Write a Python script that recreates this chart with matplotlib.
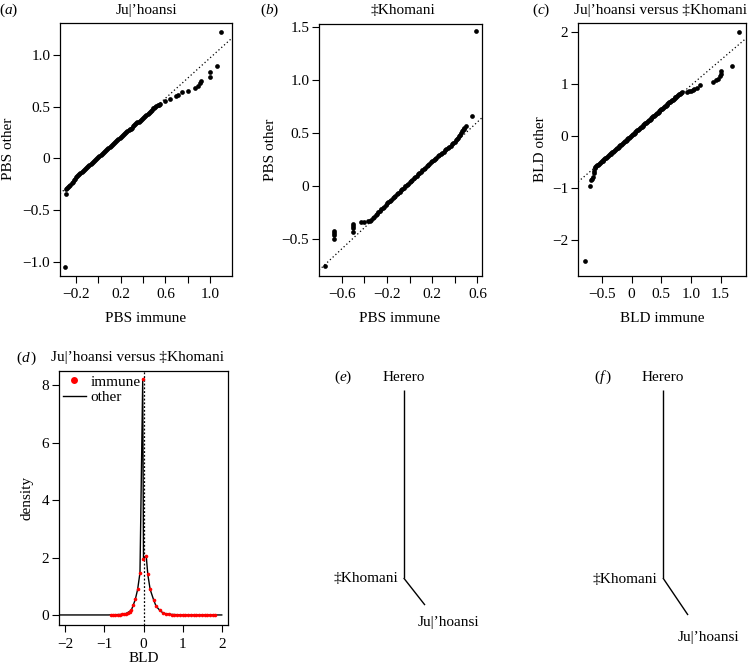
import matplotlib
matplotlib.use("Agg")
import matplotlib.pyplot as plt
from matplotlib.lines import Line2D

plt.rcParams['font.family'] = ['Liberation Serif', 'DejaVu Serif']
plt.rcParams['font.size'] = 11
plt.rcParams['mathtext.fontset'] = 'custom'
plt.rcParams['mathtext.rm'] = 'Liberation Serif'
plt.rcParams['mathtext.it'] = 'Liberation Serif:italic'

JU = "Ju|\u02bchoansi"
KH = "\u2021Khomani"

# ---------------- data ----------------
# (a) PBS QQ, Ju|'hoansi
a_x = [-0.295, -0.289,
       -0.285, -0.277, -0.27, -0.26, -0.25, -0.24, -0.23, -0.22, -0.21, -0.20, -0.19,
       -0.18, -0.17, -0.16, -0.15, -0.14, -0.13, -0.12, -0.11, -0.10, -0.09, -0.08, -0.07,
       -0.06, -0.05, -0.04, -0.03, -0.02, -0.01, 0.0, 0.01, 0.02, 0.03, 0.04, 0.05, 0.06,
       0.07, 0.08, 0.09, 0.10, 0.11, 0.12, 0.13, 0.14, 0.15, 0.16, 0.17, 0.18, 0.19,
       0.20, 0.21, 0.22, 0.23, 0.24, 0.25, 0.26, 0.27, 0.28, 0.29, 0.30, 0.31, 0.32, 0.33,
       0.34, 0.35, 0.36, 0.37, 0.38, 0.39, 0.40, 0.41, 0.42, 0.43, 0.44, 0.45, 0.46,
       0.47, 0.48, 0.49, 0.50, 0.51, 0.52, 0.53, 0.54, 0.55,
       0.595, 0.645, 0.693, 0.713, 0.752, 0.803, 0.862, 0.892, 0.907, 0.916,
       0.996, 0.996, 1.061, 1.10]
a_y = [-1.05, -0.348,
       -0.30, -0.285, -0.275, -0.265, -0.255, -0.24, -0.225, -0.21, -0.195, -0.182, -0.17,
       -0.16, -0.15, -0.14, -0.13, -0.12, -0.11, -0.10, -0.09, -0.08, -0.07, -0.06, -0.05,
       -0.04, -0.03, -0.02, -0.01, -0.002, 0.005, 0.015, 0.025, 0.035, 0.045, 0.054, 0.063,
       0.072, 0.082, 0.091, 0.10, 0.11, 0.12, 0.13, 0.14, 0.15, 0.16, 0.17, 0.18, 0.187,
       0.195, 0.205, 0.215, 0.225, 0.235, 0.245, 0.255, 0.265, 0.275, 0.282, 0.29, 0.30,
       0.31, 0.32, 0.33, 0.34, 0.35, 0.357, 0.365, 0.375, 0.385, 0.392, 0.40, 0.41, 0.42,
       0.43, 0.44, 0.45, 0.46, 0.472, 0.485, 0.492, 0.50, 0.507, 0.515, 0.522, 0.53,
       0.555, 0.578, 0.603, 0.616, 0.642, 0.658, 0.684, 0.706, 0.729, 0.755,
       0.794, 0.842, 0.90, 1.223]
a_line = (0.98, -0.005)   # slope, intercept of reference line

# (b) PBS QQ, ‡Khomani
b_x = [-0.75, -0.665, -0.665, -0.665, -0.665, -0.50, -0.50, -0.50, -0.50,
       -0.43, -0.40, -0.37,
       -0.35, -0.3375, -0.325, -0.3125, -0.30, -0.2875, -0.275, -0.2625, -0.25, -0.2375,
       -0.225, -0.2125, -0.20, -0.1875, -0.175, -0.1625, -0.15, -0.1375, -0.125, -0.1125,
       -0.10, -0.0875, -0.075, -0.0625, -0.05, -0.0375, -0.025, -0.0125, 0.0, 0.0125,
       0.025, 0.0375, 0.05, 0.0625, 0.075, 0.0875, 0.10, 0.1125, 0.125, 0.1375, 0.15,
       0.1625, 0.175, 0.1875, 0.20, 0.2125, 0.225, 0.2375, 0.25, 0.2625, 0.275, 0.2875,
       0.30, 0.3125, 0.325, 0.3375, 0.35, 0.3625, 0.375, 0.3875, 0.40, 0.41, 0.42, 0.43,
       0.44, 0.448, 0.455, 0.462, 0.47, 0.478, 0.485, 0.50, 0.55, 0.585]
b_y = [-0.76, -0.423, -0.44, -0.461, -0.502, -0.36, -0.38, -0.40, -0.43,
       -0.34, -0.34, -0.335,
       -0.33, -0.318, -0.305, -0.29, -0.275, -0.262, -0.25, -0.235, -0.22, -0.208,
       -0.195, -0.18, -0.165, -0.152, -0.14, -0.128, -0.115, -0.102, -0.09, -0.078,
       -0.065, -0.052, -0.04, -0.028, -0.015, -0.002, 0.01, 0.022, 0.035, 0.048,
       0.06, 0.072, 0.085, 0.098, 0.11, 0.122, 0.135, 0.148, 0.16, 0.172, 0.185,
       0.198, 0.21, 0.222, 0.235, 0.245, 0.255, 0.268, 0.28, 0.29, 0.30, 0.312,
       0.325, 0.338, 0.35, 0.36, 0.37, 0.382, 0.395, 0.408, 0.42, 0.432, 0.445, 0.458,
       0.47, 0.485, 0.50, 0.515, 0.53, 0.54, 0.55, 0.57, 0.66, 1.46]
b_line = (1.0, 0.005)

# (c) BLD QQ, Ju|'hoansi versus ‡Khomani
c_x = [-0.79, -0.71, -0.68, -0.665, -0.655, -0.64, -0.63, -0.62, -0.61, -0.60,
       -0.58, -0.565, -0.55, -0.535, -0.52, -0.505, -0.49, -0.475, -0.46, -0.445, -0.43,
       -0.415, -0.40, -0.385, -0.37, -0.355, -0.34, -0.325, -0.31, -0.295, -0.28, -0.265,
       -0.25, -0.235, -0.22, -0.205, -0.19, -0.175, -0.16, -0.145, -0.13, -0.115, -0.10,
       -0.085, -0.07, -0.055, -0.04, -0.025, -0.01, 0.005, 0.02, 0.035, 0.05, 0.065,
       0.08, 0.095, 0.11, 0.125, 0.14, 0.155, 0.17, 0.185, 0.20, 0.215, 0.23, 0.245,
       0.26, 0.275, 0.29, 0.305, 0.32, 0.335, 0.35, 0.365, 0.38, 0.395, 0.41, 0.425,
       0.44, 0.455, 0.47, 0.485, 0.50, 0.515, 0.53, 0.545, 0.56, 0.575, 0.59, 0.605,
       0.62, 0.635, 0.65, 0.665, 0.68, 0.695, 0.71, 0.725, 0.74, 0.755, 0.77, 0.785,
       0.80, 0.815, 0.83, 0.845,
       0.94, 0.97, 1.00, 1.03, 1.06, 1.10, 1.15, 1.38, 1.42, 1.46, 1.49, 1.50, 1.51,
       1.69, 1.81]
c_y = [-2.40, -0.96, -0.85, -0.82, -0.78, -0.72, -0.68, -0.62, -0.60, -0.58,
       -0.565, -0.55, -0.535, -0.52, -0.505, -0.49, -0.475, -0.46, -0.445, -0.43, -0.415,
       -0.40, -0.385, -0.37, -0.355, -0.342, -0.33, -0.315, -0.30, -0.285, -0.27, -0.255,
       -0.24, -0.225, -0.21, -0.195, -0.18, -0.165, -0.15, -0.135, -0.12, -0.105, -0.09,
       -0.075, -0.06, -0.045, -0.03, -0.015, 0.0, 0.015, 0.03, 0.045, 0.06, 0.075,
       0.09, 0.105, 0.12, 0.135, 0.15, 0.165, 0.18, 0.195, 0.21, 0.225, 0.24, 0.255,
       0.27, 0.285, 0.30, 0.315, 0.33, 0.345, 0.36, 0.375, 0.39, 0.405, 0.42, 0.435,
       0.45, 0.465, 0.48, 0.495, 0.51, 0.525, 0.54, 0.555, 0.57, 0.585, 0.60, 0.615,
       0.63, 0.645, 0.66, 0.675, 0.69, 0.70, 0.71, 0.725, 0.74, 0.755, 0.77, 0.785,
       0.80, 0.81, 0.82, 0.835,
       0.85, 0.86, 0.87, 0.88, 0.90, 0.93, 0.98, 1.04, 1.07, 1.10, 1.15, 1.19, 1.25,
       1.34, 2.0]
c_line = (0.972, -0.002)

# (d) BLD density
immune_x = [-0.84, -0.78, -0.72, -0.66, -0.60, -0.55, -0.50, -0.45, -0.40, -0.35, -0.31,
            -0.26, -0.21, -0.15, -0.09, -0.02, -0.01, 0.07, 0.11, 0.17, 0.26, 0.32, 0.41,
            0.49, 0.58, 0.65, 0.72, 0.79, 0.86, 0.93, 1.00, 1.07, 1.14, 1.21, 1.28, 1.35,
            1.42, 1.49, 1.56, 1.63, 1.70, 1.77, 1.82]
immune_y = [0.0, 0.0, 0.0, 0.01, 0.01, 0.02, 0.03, 0.05, 0.08, 0.12, 0.17,
            0.35, 0.54, 0.89, 1.47, 8.23, 1.94, 2.05, 1.41, 0.89, 0.52, 0.31, 0.17,
            0.08, 0.03, 0.02, 0.01, 0.01, 0.0, 0.0, 0.0, 0.0, 0.0, 0.0, 0.0, 0.0,
            0.0, 0.0, 0.0, 0.0, 0.0, 0.0, 0.0]
other_x = [-2.3, -0.9, -0.7, -0.55, -0.45, -0.38, -0.31, -0.26, -0.21, -0.15, -0.09,
           -0.02, 0.0, 0.03, 0.07, 0.11, 0.17, 0.26, 0.32, 0.41, 0.49, 0.58, 0.70,
           0.85, 1.0, 1.3, 2.0]
other_y = [0.0, 0.0, 0.01, 0.02, 0.05, 0.10, 0.17, 0.35, 0.54, 0.89, 1.47,
           8.2, 1.94, 2.0, 2.05, 1.41, 0.89, 0.52, 0.31, 0.17, 0.08, 0.04, 0.02,
           0.01, 0.0, 0.0, 0.0]

# (e), (f) trees: node coordinates (node at origin, Herero branch length 1)
tree_e = {"Herero": (0.0, 1.0), "node": (0.0, 0.0), "Ju": (0.113, -0.144)}
tree_f = {"Herero": (0.0, 1.0), "node": (0.0, 0.0), "Ju": (0.133, -0.197)}

# ---------------- figure ----------------
W, H = 748, 666
fig = plt.figure(figsize=(W / 100, H / 100), dpi=100)


def px_axes(l, t, r, b):
    return fig.add_axes([l / W, 1 - b / H, (r - l) / W, (b - t) / H])


def ftext(x, y, s, **kw):
    kw.setdefault("ha", "center")
    kw.setdefault("va", "center")
    fig.text(x / W, 1 - y / H, s, fontsize=11, **kw)


def style(ax):
    for sp in ax.spines.values():
        sp.set_linewidth(0.9)
    ax.tick_params(direction="out", length=5, width=0.8, labelsize=11, colors="black")
    ax.tick_params(axis="y", pad=2)
    ax.tick_params(axis="x", pad=4)


def set_labels(ax, xl, yl, xpos, ypos):
    ax.set_xlabel(xl, fontsize=11)
    ax.set_ylabel(yl, fontsize=11)
    ax.xaxis.label.set_va("center")
    ax.yaxis.label.set_va("center")
    ax.xaxis.set_label_coords(xpos[0] / W, 1 - xpos[1] / H, transform=fig.transFigure)
    ax.yaxis.set_label_coords(ypos[0] / W, 1 - ypos[1] / H, transform=fig.transFigure)


def qq(ax, x, y, line, xlim, ylim):
    ax.plot(x, y, "o", color="black", ms=3.4, mec="none")
    s, b = line
    ax.plot([xlim[0], xlim[1]], [s * xlim[0] + b, s * xlim[1] + b],
            color="black", lw=0.9, ls=(0, (1, 2)))
    ax.set_xlim(*xlim)
    ax.set_ylim(*ylim)


def tick_labels(vals, labelled, fmt):
    out = []
    for v in vals:
        if any(abs(v - l) < 1e-9 for l in labelled):
            out.append("0" if abs(v) < 1e-9 else fmt.format(v).replace("-", "\u2212"))
        else:
            out.append("")
    return out

# (a)
ax_a = px_axes(60, 23, 232, 276)
style(ax_a)
qq(ax_a, a_x, a_y, a_line, (-0.343, 1.196), (-1.139, 1.313))
xt = [-0.2, 0.0, 0.2, 0.4, 0.6, 0.8, 1.0]
ax_a.set_xticks(xt)
ax_a.set_xticklabels(tick_labels(xt, [-0.2, 0.2, 0.6, 1.0], "{:.1f}"))
yt = [-1.0, -0.5, 0.0, 0.5, 1.0]
ax_a.set_yticks(yt)
ax_a.set_yticklabels(tick_labels(yt, yt, "{:.1f}"))
set_labels(ax_a, "PBS immune", "PBS other", (146, 318), (9, 149))
ftext(146, 10.7, JU)
ftext(9, 10.7, r"$(\mathit{a})$")

# (b)
ax_b = px_axes(319, 24, 482, 276)
style(ax_b)
qq(ax_b, b_x, b_y, b_line, (-0.80, 0.64), (-0.85, 1.53))
xt = [-0.6, -0.4, -0.2, 0.0, 0.2, 0.4, 0.6]
ax_b.set_xticks(xt)
ax_b.set_xticklabels(tick_labels(xt, [-0.6, -0.2, 0.2, 0.6], "{:.1f}"))
yt = [-0.5, 0.0, 0.5, 1.0, 1.5]
ax_b.set_yticks(yt)
ax_b.set_yticklabels(tick_labels(yt, yt, "{:.1f}"))
set_labels(ax_b, "PBS immune", "PBS other", (400, 318), (271, 150))
ftext(403, 10.7, KH)
ftext(270, 10.7, r"$(\mathit{b})$")

# (c)
ax_c = px_axes(578, 23, 746, 276)
style(ax_c)
qq(ax_c, c_x, c_y, c_line, (-0.905, 1.93), (-2.69, 2.17))
xt = [-0.5, 0.0, 0.5, 1.0, 1.5]
ax_c.set_xticks(xt)
ax_c.set_xticklabels(tick_labels(xt, xt, "{:.1f}"))
yt = [-2, -1, 0, 1, 2]
ax_c.set_yticks(yt)
ax_c.set_yticklabels(tick_labels(yt, yt, "{:.0f}"))
set_labels(ax_c, "BLD immune", "BLD other", (662, 318), (541, 149))
ftext(660, 10.7, JU + " versus " + KH)
ftext(541, 10.7, r"$(\mathit{c})$")

# (d)
ax_d = px_axes(59, 371, 228, 625)
style(ax_d)
ax_d.axvline(0, color="black", lw=0.9, ls=(0, (1.5, 1.5)))
ax_d.plot(other_x, other_y, color="black", lw=1.0, zorder=2)
ax_d.plot(immune_x, immune_y, "o", color="red", ms=2.6, mec="none", zorder=3)
ax_d.set_xlim(-2.16, 2.16)
ax_d.set_ylim(-0.35, 8.5)
ax_d.set_xticks([-2, -1, 0, 1, 2])
ax_d.set_xticklabels(tick_labels([-2, -1, 0, 1, 2], [-2, -1, 0, 1, 2], "{:.0f}"))
ax_d.set_yticks([0, 2, 4, 6, 8])
h1 = Line2D([], [], marker="o", color="red", ls="none", ms=5, mec="none")
h2 = Line2D([], [], color="black", lw=1.0)
ax_d.legend([h1, h2], ["immune", "other"], loc="upper left", frameon=False,
            handlelength=1.5, handletextpad=0.3, labelspacing=0.15,
            borderaxespad=0.05, borderpad=0.2, fontsize=11)
set_labels(ax_d, "BLD", "density", (144, 659), (27.5, 498))
ftext(137.5, 358, JU + " versus " + KH)
ftext(27, 358, r"$(\mathit{d}\,)$")

# (e), (f) trees


def draw_tree(ax, tree, kh_dx, kh_dy, ju_dx, ju_dy, letter):
    hx, hy = tree["Herero"]
    nx, ny = tree["node"]
    jx, jy = tree["Ju"]
    ax.plot([hx, nx], [hy, ny], color="black", lw=1.0, solid_capstyle="butt")
    ax.plot([nx, jx], [ny, jy], color="black", lw=1.0, solid_capstyle="butt")
    ax.text(hx, hy + 0.069, "Herero", ha="center", va="center", fontsize=11)
    ax.text(nx + kh_dx, ny + kh_dy, KH, ha="right", va="center", fontsize=11)
    ax.text(jx + ju_dx, jy + ju_dy, JU, ha="left", va="center", fontsize=11)
    ax.text(hx - 0.32, hy + 0.069, letter, ha="center", va="center", fontsize=11)
    ax.axis("off")


ax_e = px_axes(330, 360, 500, 650)
ax_e.set_xlim(-0.392, 0.512)
ax_e.set_ylim(-0.383, 1.16)
draw_tree(ax_e, tree_e, -0.03, 0.0, -0.037, -0.095, r"$(\mathit{e})$")

ax_f = px_axes(590, 360, 748, 650)
ax_f.set_xlim(-0.388, 0.452)
ax_f.set_ylim(-0.383, 1.16)
draw_tree(ax_f, tree_f, -0.032, -0.01, -0.053, -0.117, r"$(\mathit{f}\,)$")

fig.savefig("out.png", dpi=100)
